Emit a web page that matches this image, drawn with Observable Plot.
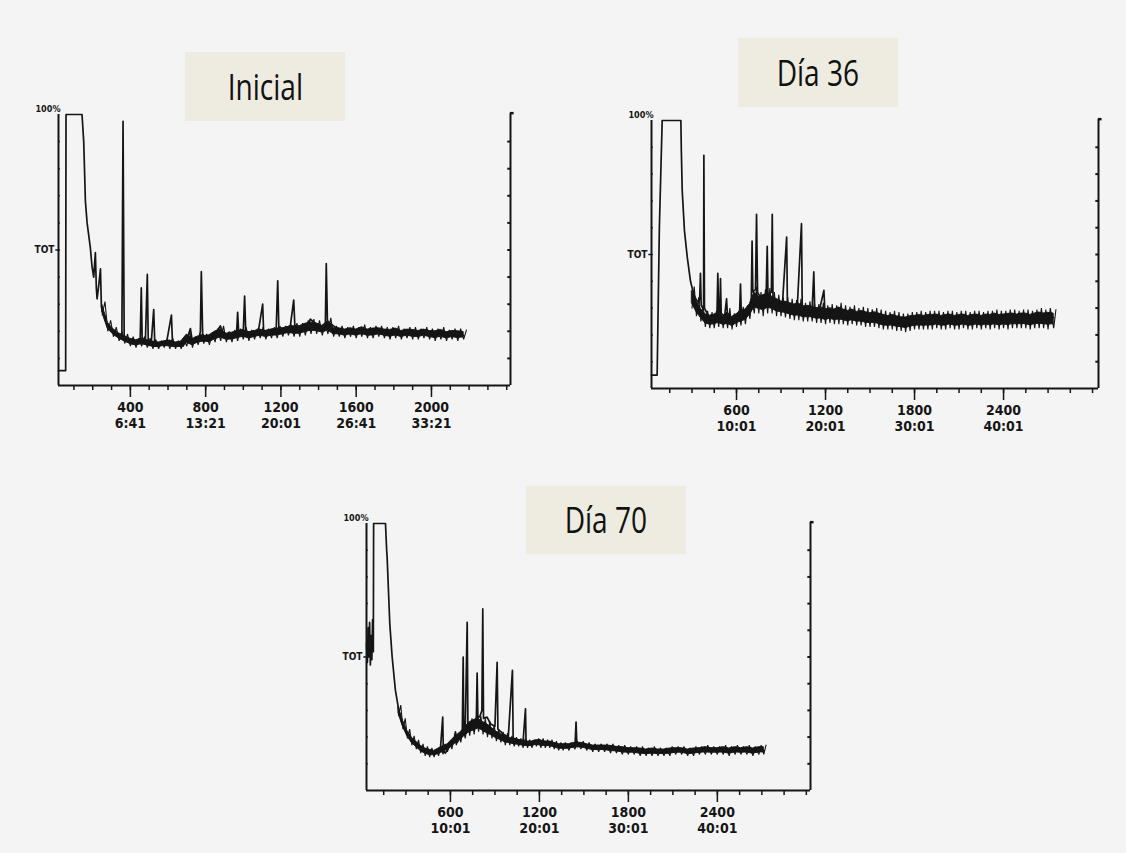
<!DOCTYPE html>
<html>
<head>
<meta charset="utf-8">
<script src="https://cdn.jsdelivr.net/npm/d3@7"></script>
<script src="https://cdn.jsdelivr.net/npm/@observablehq/plot@0.6"></script>
<style>
  html, body { margin: 0; padding: 0; background: #f4f4f4; overflow: hidden; }
  #wrap { position: relative; width: 1126px; height: 853px; overflow: hidden; background: #f4f4f4; }
  .panel { position: absolute; }
  .panel svg text { font-stretch: condensed; }
  .title { position: absolute; background: #eeece1; display: flex; align-items: center; justify-content: center;
           font-family: "Open Sans", "Noto Sans", sans-serif; font-size: 36px; color: #111; z-index: 2; }
  .title span { display: inline-block; transform: scaleX(0.78); line-height: 1; }
</style>
</head>
<body>
<div id="wrap">
  <div class="title" style="left:185px;top:52px;width:160px;height:69px;"><span>Inicial</span></div>
  <div class="title" style="left:738px;top:38px;width:160px;height:69px;"><span>Día 36</span></div>
  <div class="title" style="left:526px;top:486px;width:160px;height:68px;"><span>Día 70</span></div>
  <div class="panel" id="p1" style="left:0px;top:90px;"></div>
  <div class="panel" id="p2" style="left:600px;top:90px;"></div>
  <div class="panel" id="p3" style="left:310px;top:490px;"></div>
</div>
<script>
// ---------------- DATA ----------------
// Tick positions (scan number) and labels (scan / retention time)
const ticksA = [400, 800, 1200, 1600, 2000];
const ticksAScan = ["400", "800", "1200", "1600", "2000"];
const ticksATime = ["6:41", "13:21", "20:01", "26:41", "33:21"];
const minorA = [100,200,300,400,500,600,700,800,900,1000,1100,1200,1300,1400,1500,1600,1700,1800,1900,2000,2100,2200,2300,2400];

const ticksB = [600, 1200, 1800, 2400];
const ticksBScan = ["600", "1200", "1800", "2400"];
const ticksBTime = ["10:01", "20:01", "30:01", "40:01"];
const minorB = [150,300,450,600,750,900,1050,1200,1350,1500,1650,1800,1950,2100,2250,2400,2550,2700,2850,3000];

const pctTicks = [10, 20, 30, 40, 50, 60, 70, 80, 90];

// Trace: [scan, relative abundance %]
const inicialTrace = [[18,5.5],[56,5.5],[58,100],[143,100],[152,90],[161,68],[170,60],[187,51],[196,44],[205,40],[214,49],[219,36],[223,32],[232,37],[241,43],[246,29],[258,26],[267,24],[280,22],[294,21],[310,19.5],[329,18.5],[347,18],[355,19],[361,97.5],[367,18],[373,17],[395,16.5],[418,16],[440,15.5],[452,17],[458,36],[463,16],[480,17],[490,41],[495,16],[510,15],[524,28],[530,15],[560,15.5],[590,15],[618,26],[624,15.5],[650,15],[680,14.5],[700,17],[719,21],[730,16],[760,16],[772,20],[777,42],[784,19],[800,17],[840,18],[878,22],[900,18],[940,19],[965,20],[970,27],[976,19],[1000,20],[1007,33],[1013,20],[1050,19.5],[1080,20],[1103,30],[1108,20],[1140,20.5],[1175,21],[1183,38.6],[1189,21],[1220,21],[1250,22],[1268,31.5],[1274,22],[1310,21.5],[1340,22],[1356,24.5],[1380,23],[1410,21],[1436,22],[1441,45],[1447,24],[1460,23],[1500,21],[1560,20],[1650,20],[1764,20],[1850,19.5],[1950,19.5],[2050,19],[2171,18.5]];
// Noise band: [scan, low %, high %]
const inicialBand = [[250,26,31],[280,20,24],[310,18,21.5],[340,16.5,20],[370,15.5,19],[400,14.5,18],[430,14,17.5],[460,14.5,18],[490,14,17.5],[520,13.5,17],[550,13.5,16.5],[580,14,17],[610,13.5,17.5],[640,13.5,16.5],[670,13.5,17],[700,14.5,20],[730,14,18],[760,15,19],[790,15.5,19],[820,15,19.5],[850,16,21],[880,16.5,22],[910,16,20],[940,16,20.5],[970,16.5,21],[1000,17,21.5],[1030,16.5,20.5],[1060,17,21],[1090,17.5,21.5],[1120,17,21],[1150,17.5,21.5],[1180,17.5,22],[1210,18,22],[1240,18.5,22.5],[1270,18,23],[1300,18,23],[1330,18.5,24],[1360,19,24.5],[1390,19,24],[1420,18.5,23],[1450,19,25],[1480,18,22],[1510,18,22],[1540,17.5,21.5],[1570,18,22],[1600,17.5,21.5],[1630,18,22.5],[1660,17.5,21.5],[1690,17.5,22],[1720,18,22],[1750,17.5,21.5],[1780,17,21.5],[1810,17.5,22],[1840,17,21],[1870,17.5,21.5],[1900,17,21.5],[1930,17,21],[1960,17.5,21.5],[1990,17,21],[2020,16.5,21],[2050,17,21.5],[2080,16.5,20.5],[2110,17,21],[2140,16.5,21],[2171,17,20.5]];

const dia36Trace = [[27,5],[65,5],[80,60],[99,100],[225,100],[228,89],[234,74],[249,59],[268,49],[290,40],[312,35],[330,33],[346,32],[352,34],[357,43],[362,31],[372,30],[378,30],[380,87],[384,30],[402,28],[425,26],[450,25],[468,27],[474,43],[480,28],[488,29],[492,41],[497,28],[520,27],[533,33.5],[540,26],[570,25],[600,26],[620,27],[627,39],[633,27],[660,28],[690,30],[700,34],[705,55],[710,36],[728,37],[735,65],[742,36],[770,33],[800,35],[807,53],[812,35],[835,36],[841,65],[846,34],[880,33],[910,32],[938,56.5],[943,32],[980,31],[1010,31],[1038,61.5],[1043,31],[1080,30],[1110,30],[1121,43.5],[1127,30],[1160,29.5],[1189,36.6],[1195,29.5],[1250,29],[1324,29],[1400,28],[1549,27],[1650,26],[1773,25.5],[1900,25.5],[1998,26],[2100,25.5],[2223,26],[2350,26],[2448,26],[2600,26.5],[2738,26.5]];
const dia36Band = [[300,30,38],[330,27,34],[360,25,31],[390,23,29],[420,22.5,28.5],[450,22.5,29],[480,23,30],[510,22.5,28],[540,22.5,30],[570,22,28],[600,23,29],[630,23.5,30.5],[660,24,31],[690,26,33],[720,28,38],[750,28,36],[780,27,37],[810,28,37.5],[840,28,36],[870,27,35],[900,27,34],[930,26.5,34],[960,26,33.5],[990,25.5,33],[1020,25.5,33.5],[1050,25,32],[1080,25,32.5],[1110,25,32],[1140,24.5,31.5],[1170,24.5,32],[1200,24,31],[1230,24.5,31.5],[1260,24,31],[1290,24,32],[1320,24,31],[1350,23.5,30.5],[1380,24,31],[1410,23.5,30],[1440,23.5,30.5],[1470,23,30],[1500,23,29.5],[1530,23,30],[1560,22.5,29.5],[1590,22,29],[1620,22,28.5],[1650,22,29],[1680,21.5,28.5],[1710,21.5,28],[1740,21,28],[1770,21.5,28.5],[1800,22,28.5],[1830,22,29],[1860,22,28.5],[1890,22,29],[1920,22,29],[1950,22.5,29],[1980,22,28.5],[2010,22,29],[2040,22.5,29],[2070,22,28.5],[2100,22,29],[2130,22.5,29],[2160,22,28.5],[2190,22,29],[2220,22.5,29],[2250,22,28.5],[2280,22.5,29],[2310,22,29],[2340,22.5,29.5],[2370,22,29],[2400,22.5,29],[2430,22,29.5],[2460,22.5,29.5],[2490,22.5,29],[2520,22.5,29.5],[2550,22.5,29.5],[2580,22,29],[2610,22.5,29.5],[2640,22.5,30],[2670,22.5,29.5],[2700,22,30],[2738,22.5,29.5]];

const dia70Trace = [[34,55],[40,48],[45,61],[50,50],[55,63],[60,47],[65,58],[70,49],[75,64],[80,52],[82,100],[162,100],[170,90],[173,87.5],[191,62.5],[207,50],[229,37.5],[252,30],[274,25],[308,21],[353,18],[398,15.6],[443,14.4],[499,13.75],[520,14],[533,16],[548,27.5],[552,15],[566,14],[600,17],[620,18],[634,22],[645,18],[656,19],[670,20],[680,22],[686,50],[690,21],[700,23],[713,63],[718,24],[735,25],[760,26],[775,27],[780,44],[785,27],[800,28],[812,30],[818,68],[823,27],[847,27.5],[870,25],[900,24],[915,48],[920,23],[960,21],[990,20],[1018,45],[1023,19.5],[1061,19],[1090,18.5],[1106,30.6],[1110,18],[1140,17.5],[1196,19],[1230,18],[1274,18],[1320,17],[1364,16],[1440,16.5],[1447,25.6],[1453,16.5],[1499,17],[1600,16.5],[1700,16],[1814,15.6],[1900,15],[2038,14.6],[2150,14.8],[2263,14.6],[2400,15],[2488,15],[2600,15],[2713,15]];
const dia70Band = [[250,28,32],[280,23,27],[310,19.5,23],[340,17,20.5],[370,15.5,19],[400,14,17.5],[430,13,16.5],[460,12.5,16],[490,12.5,15.5],[520,13,16.5],[550,13.5,17.5],[580,14.5,18],[610,15.5,20],[640,17,21.5],[670,18,23],[700,19.5,25],[730,20.5,27],[760,21,28],[790,22,28],[820,21,27],[850,20,26],[880,19.5,24.5],[910,18.5,23],[940,18,22],[970,17,21.5],[1000,17,20.5],[1030,16.5,20],[1060,16.5,19.5],[1090,16,19.5],[1120,16,19],[1150,16,19],[1180,16.5,19.5],[1210,16,19.5],[1240,16,19],[1270,16,19],[1300,15.5,18.5],[1330,15,18],[1360,15,18],[1400,15,18],[1440,15.5,18.5],[1480,15.5,18.5],[1520,15,18],[1560,14.5,17.5],[1600,14.5,17.5],[1640,14.5,17.5],[1680,14,17.5],[1720,14,17],[1760,13.5,17],[1800,13.5,16.5],[1840,13.5,16.5],[1880,13,16.5],[1920,13,16],[1960,13,16.5],[2000,13,16],[2040,13,16],[2080,13,16.5],[2120,13.5,16.5],[2160,13.5,16.5],[2200,13,16],[2240,13,16.5],[2280,13.5,16.5],[2320,13.5,17],[2360,13.5,16.5],[2400,13.5,16.5],[2440,13.5,17],[2480,13,16.5],[2520,13.5,17],[2560,13.5,16.5],[2600,13.5,17],[2640,13,16.5],[2680,13.5,17],[2713,13.5,17]];

// ---------------- DRAW ----------------
const INK = "#151515";
const LABEL_FONT = "'DejaVu Sans', sans-serif";

function chromatogram(opts) {
  const {trace, band, xDomain, majors, majorScan, majorTime, minors, width, height, margins} = opts;
  const [x0, x1] = xDomain;
  const span = x1 - x0;
  const traceRows = trace.map(([s, v]) => ({s, v}));
  // inner core of the noise band, and a zig-zag through its read low/high values
  const coreRows = band.map(([s, lo, hi]) => ({s, lo: lo + (hi - lo) * 0.22, hi: hi - (hi - lo) * 0.22}));
  const zigRows = band.flatMap(([s, lo, hi]) => [{s, v: lo}, {s: s + 15, v: hi}]);
  const labelOf = new Map(majors.map((m, i) => [m, majorScan[i] + "\n" + majorTime[i]]));
  return Plot.plot({
    width, height,
    marginLeft: margins[0], marginRight: margins[1], marginTop: margins[2], marginBottom: margins[3],
    style: {background: "transparent", color: INK, overflow: "visible", fontFamily: LABEL_FONT},
    x: {domain: xDomain, axis: null, label: null},
    y: {domain: [0, 100], axis: null, label: null},
    marks: [
      Plot.areaY(coreRows, {x: "s", y1: "lo", y2: "hi", fill: INK, stroke: INK, strokeWidth: 1, strokeLinejoin: "round"}),
      Plot.line(zigRows, {x: "s", y: "v", stroke: INK, strokeWidth: 1.1, strokeLinejoin: "miter"}),
      Plot.line(traceRows, {x: "s", y: "v", stroke: INK, strokeWidth: 1.7, strokeLinejoin: "round"}),
      // frame: left, right, bottom
      Plot.ruleX([x0], {y1: 0, y2: 100, stroke: INK, strokeWidth: 2}),
      Plot.ruleX([x1], {y1: 0, y2: 100.5, stroke: INK, strokeWidth: 2}),
      Plot.ruleY([0], {x1: x0, x2: x1, stroke: INK, strokeWidth: 2}),
      Plot.ruleY([100.5], {x1: x1, x2: x1 + span * 0.008, stroke: INK, strokeWidth: 2.5}),
      // percentage ticks on both vertical axes
      Plot.ruleY(pctTicks, {x1: x1 - span * 0.006, x2: x1, stroke: INK, strokeWidth: 2}),
      Plot.ruleY(pctTicks, {x1: x0, x2: x0 + span * 0.004, stroke: INK, strokeWidth: 1.5}),
      // TOT marker
      Plot.ruleY([50], {x1: x0 - span * 0.006, x2: x0, stroke: INK, strokeWidth: 1.5}),
      Plot.text(["TOT"], {x: [x0], y: [50], text: d => d, textAnchor: "end", dx: -4, fontSize: 10, fontWeight: "bold", fill: INK}),
      Plot.text(["100%"], {x: [x0], y: [100], text: d => d, textAnchor: "end", dx: 2, dy: -5, fontSize: 9, fontWeight: "bold", fill: INK}),
      // x axis ticks
      Plot.axisX(minors, {tickSize: 5, tickFormat: () => "", label: null, stroke: INK, strokeWidth: 1.5}),
      Plot.axisX(majors, {tickSize: 12, tickPadding: 3, tickFormat: d => labelOf.get(d), label: null,
        fontSize: 14, fontWeight: "bold", lineHeight: 1.15, fill: INK, stroke: INK, strokeWidth: 1.5})
    ]
  });
}

document.getElementById("p1").append(chromatogram({
  trace: inicialTrace, band: inicialBand, xDomain: [18, 2420],
  majors: ticksA, majorScan: ticksAScan, majorTime: ticksATime, minors: minorA,
  width: 540, height: 360, margins: [58, 30, 24, 65]
}));
document.getElementById("p2").append(chromatogram({
  trace: dia36Trace, band: dia36Band, xDomain: [27, 3040],
  majors: ticksB, majorScan: ticksBScan, majorTime: ticksBTime, minors: minorB,
  width: 520, height: 370, margins: [51, 22, 30, 72]
}));
document.getElementById("p3").append(chromatogram({
  trace: dia70Trace, band: dia70Band, xDomain: [34, 3028],
  majors: ticksB, majorScan: ticksBScan, majorTime: ticksBTime, minors: minorB,
  width: 530, height: 360, margins: [56, 30, 33, 60]
}));
</script>
</body>
</html>
